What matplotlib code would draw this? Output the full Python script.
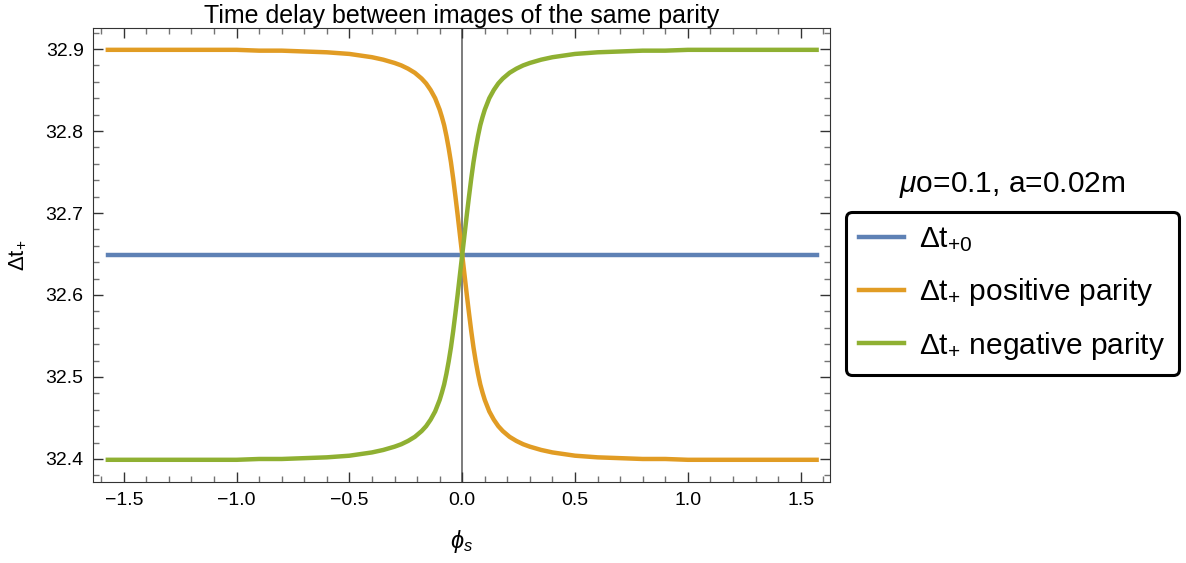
import matplotlib.pyplot as plt
from matplotlib.ticker import MultipleLocator

plt.rcParams['font.family'] = ['Liberation Sans', 'DejaVu Sans']
plt.rcParams['mathtext.fontset'] = 'custom'
plt.rcParams['mathtext.rm'] = 'Liberation Sans'
plt.rcParams['mathtext.it'] = 'Liberation Sans:italic'

# phi_s samples
phi = [-1.5708, -1.4, -1.2, -1.0, -0.9, -0.8, -0.7, -0.6, -0.5, -0.45, -0.4, -0.35, -0.3,
       -0.27, -0.24, -0.21, -0.18, -0.16, -0.14, -0.12, -0.10, -0.09, -0.08, -0.07,
       -0.06, -0.05, -0.04, -0.03, -0.02, -0.01, 0.0,
       0.01, 0.02, 0.03, 0.04, 0.05, 0.06, 0.07, 0.08, 0.09, 0.10, 0.12, 0.14, 0.16,
       0.18, 0.21, 0.24, 0.27, 0.3, 0.35, 0.4, 0.45, 0.5, 0.6, 0.7, 0.8, 0.9, 1.0,
       1.2, 1.4, 1.5708]

dt0 = [32.649] * len(phi)

dt_pos = [32.899, 32.899, 32.899, 32.899, 32.898, 32.898, 32.897, 32.896, 32.894, 32.892,
          32.890, 32.887, 32.883, 32.880, 32.876, 32.871, 32.864, 32.858, 32.850, 32.840,
          32.826, 32.817, 32.807, 32.794, 32.779, 32.762, 32.742, 32.720, 32.697, 32.673,
          32.649,
          32.625, 32.601, 32.578, 32.556, 32.536, 32.519, 32.504, 32.491, 32.481, 32.472,
          32.458, 32.448, 32.440, 32.434, 32.427, 32.422, 32.418, 32.415, 32.411, 32.408,
          32.406, 32.404, 32.402, 32.401, 32.400, 32.400, 32.399, 32.399, 32.399, 32.399]

dt_neg = [32.399, 32.399, 32.399, 32.399, 32.400, 32.400, 32.401, 32.402, 32.404, 32.406,
          32.408, 32.411, 32.415, 32.418, 32.422, 32.427, 32.434, 32.440, 32.448, 32.458,
          32.472, 32.481, 32.491, 32.504, 32.519, 32.536, 32.556, 32.578, 32.601, 32.625,
          32.649,
          32.673, 32.697, 32.720, 32.742, 32.762, 32.779, 32.794, 32.807, 32.817, 32.826,
          32.840, 32.850, 32.858, 32.864, 32.871, 32.876, 32.880, 32.883, 32.887, 32.890,
          32.892, 32.894, 32.896, 32.897, 32.898, 32.898, 32.899, 32.899, 32.899, 32.899]

fig = plt.figure(figsize=(11.86, 5.63), dpi=100)
ax = fig.add_axes([0.0787, 0.1434, 0.6211, 0.8074])

ax.axvline(0, color='0.35', lw=1.1, zorder=1)
ax.plot(phi, dt0, color='#5E81B5', lw=3.2, label='Δt$_{+0}$', zorder=2)
ax.plot(phi, dt_pos, color='#E19C24', lw=3.2, label='Δt$_{+}$ positive parity', zorder=3)
ax.plot(phi, dt_neg, color='#8FB032', lw=3.2, label='Δt$_{+}$ negative parity', zorder=4)

ax.set_xlim(-1.635, 1.63)
ax.set_ylim(32.3716, 32.926)

ax.xaxis.set_major_locator(MultipleLocator(0.5))
ax.xaxis.set_minor_locator(MultipleLocator(0.1))
ax.yaxis.set_major_locator(MultipleLocator(0.1))
ax.yaxis.set_minor_locator(MultipleLocator(0.02))
ax.tick_params(which='both', direction='in', top=True, right=True,
               labelsize=14, color='0.2', pad=7)
ax.tick_params(which='major', length=7, width=1)
ax.tick_params(which='minor', length=4, width=1, color='0.45')
for s in ax.spines.values():
    s.set_color('0.2')

ax.set_title('Time delay between images of the same parity', fontsize=18, pad=2)
ax.set_xlabel(r'$\phi_s$', fontsize=17, labelpad=14)
ax.set_ylabel('Δt$_{+}$', fontsize=16, labelpad=12)

leg = ax.legend(loc='upper left', bbox_to_anchor=(846 / 1186, 1 - 212 / 563),
                bbox_transform=fig.transFigure, borderaxespad=0, fontsize=21.5,
                frameon=True, fancybox=True, framealpha=1, handlelength=1.5,
                handletextpad=0.5, borderpad=0.45, labelspacing=0.73)
leg.get_frame().set_edgecolor('black')
leg.get_frame().set_linewidth(2.2)
fig.text(1012 / 1186, 1 - 185 / 563, r'$\mu$o=0.1, a=0.02m', fontsize=21.5,
         ha='center', va='center')

plt.savefig('out.png', dpi=100)
